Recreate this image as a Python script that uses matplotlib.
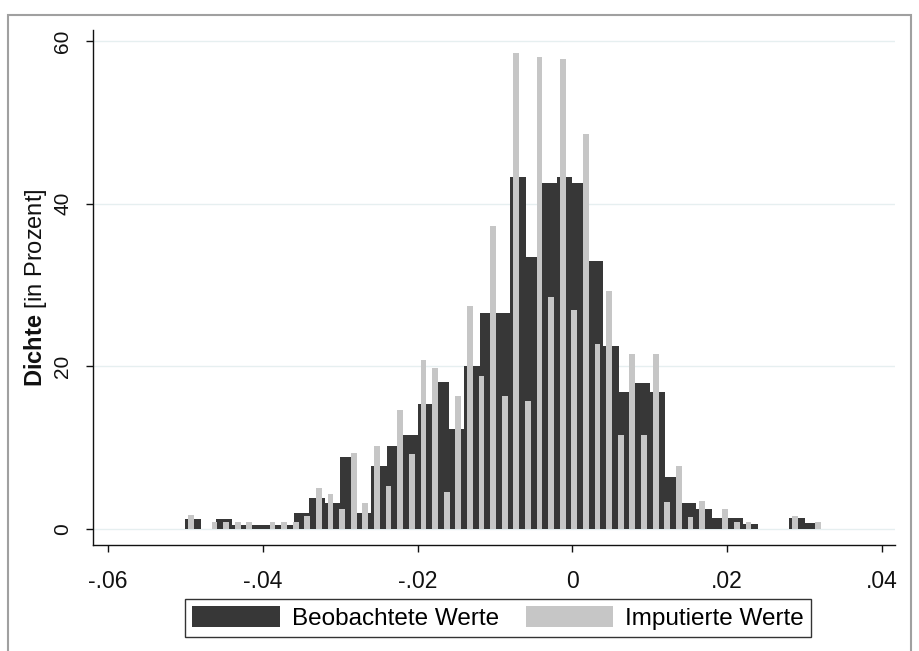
import matplotlib
matplotlib.use("Agg")
import matplotlib.pyplot as plt
import matplotlib.patches as patches
from matplotlib.ticker import FuncFormatter
import numpy as np

plt.rcParams["font.family"] = ["Liberation Sans", "DejaVu Sans"]
plt.rcParams["mathtext.fontset"] = "custom"
plt.rcParams["mathtext.rm"] = "Liberation Sans"
plt.rcParams["mathtext.bf"] = "Liberation Sans:bold"

# observed values: histogram from -0.05, bin width 0.002
obs_start = -0.05
obs_width = 0.002
obs_density = [1.2, 0.0, 1.2, 0.5, 0.5, 0.5, 0.5, 2.0, 3.8, 3.2,
               8.9, 2.0, 7.7, 10.2, 11.6, 15.4, 18.1, 12.3, 20.0, 26.5,
               26.5, 43.3, 33.4, 42.5, 43.3, 42.5, 32.9, 22.5, 16.8, 18.0,
               16.9, 6.4, 3.2, 2.5, 1.3, 1.3, 0.6, 0.0, 0.0, 1.3,
               0.7]

# imputed values: histogram from -0.05, bin width 0.0015
imp_start = -0.05
imp_width = 0.0015
imp_density = [1.7, 0.0, 0.8, 0.8, 0.8, 0.8, 0.0, 0.8, 0.8, 0.8,
               1.6, 5.0, 4.3, 2.5, 9.4, 3.2, 10.2, 5.3, 14.6, 9.2,
               20.8, 19.8, 4.5, 16.4, 27.4, 18.8, 37.3, 16.4, 58.5, 15.7,
               58.0, 28.5, 57.8, 26.9, 48.6, 22.7, 29.2, 11.6, 21.5, 11.6,
               21.5, 3.3, 7.7, 1.5, 3.5, 0.0, 2.5, 0.8, 0.8, 0.0,
               0.0, 0.0, 1.6, 0.0, 0.8]

x_ticks = [-0.06, -0.04, -0.02, 0, 0.02, 0.04]
y_ticks = [0, 20, 40, 60]

dark = "#373737"
light = "#c6c6c6"

fig = plt.figure(figsize=(9.19, 6.51), dpi=100)
ax = fig.add_axes([93 / 919, 1 - 545 / 651, 802 / 919, 515 / 651])

obs_left = obs_start + obs_width * np.arange(len(obs_density))
ax.bar(obs_left, obs_density, width=obs_width, align="edge",
       color=dark, linewidth=0, label="Beobachtete Werte", zorder=2)

imp_center = imp_start + imp_width * (np.arange(len(imp_density)) + 0.5)
ax.bar(imp_center, imp_density, width=imp_width * 0.5, align="center",
       color=light, linewidth=0, label="Imputierte Werte", zorder=3)

ax.set_xlim(-0.06194, 0.04168)
ax.set_ylim(-1.97, 61.35)
ax.set_xticks(x_ticks)
ax.set_yticks(y_ticks)


def stata_fmt(v, pos):
    if abs(v) < 1e-12:
        return "0"
    s = f"{v:.2f}"
    return s.replace("0.", ".")


ax.xaxis.set_major_formatter(FuncFormatter(stata_fmt))
ax.yaxis.grid(True, color="#e6eff0", linewidth=1.0, zorder=0)
ax.set_axisbelow(True)

for side in ["top", "right"]:
    ax.spines[side].set_visible(False)
for side in ["left", "bottom"]:
    ax.spines[side].set_linewidth(1.0)
    ax.spines[side].set_color("#111111")

ax.tick_params(axis="both", length=5, width=1, color="#111111",
               labelcolor="#111111")
ax.tick_params(axis="x", pad=13, labelsize=16.5)
ax.tick_params(axis="y", pad=10, labelsize=15, labelrotation=90)
for lab in ax.get_yticklabels():
    lab.set_va("center")

ax.set_ylabel(r"$\mathbf{Dichte}$ [in Prozent]", fontsize=17, color="#111111")
ax.yaxis.set_label_coords(-0.055, 0.5)

leg = fig.legend(loc="center", bbox_to_anchor=(498 / 919, 1 - 618 / 651),
                 ncol=2, fontsize=17.5, frameon=True, fancybox=False,
                 edgecolor="black", handlelength=3.6, handleheight=0.95,
                 handletextpad=0.5, columnspacing=1.1, borderpad=0.3,
                 borderaxespad=0)
leg.get_frame().set_linewidth(1.0)

border = patches.Rectangle((8 / 919, -0.05), 903 / 919, 1.05 - 15 / 651,
                           transform=fig.transFigure, fill=False,
                           edgecolor="#a0a0a0", linewidth=1.5)
fig.patches.append(border)

fig.savefig("out.png", dpi=100)
